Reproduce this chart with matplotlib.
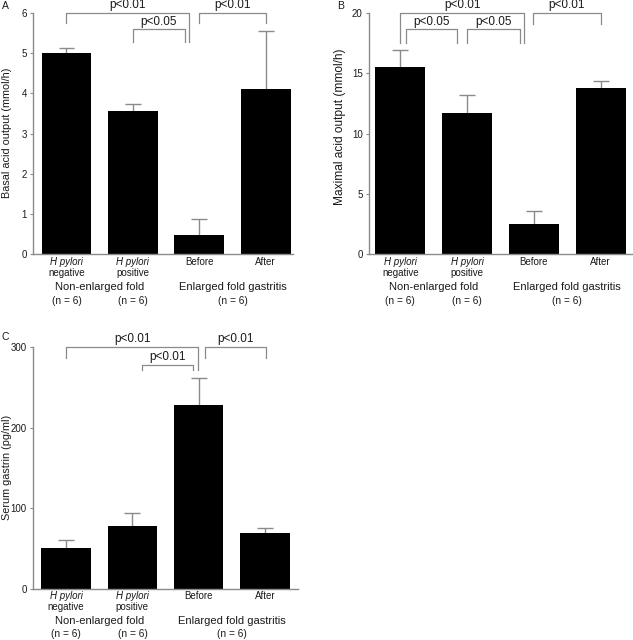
import numpy as np
import matplotlib
matplotlib.use("Agg")
import matplotlib.pyplot as plt

plt.rcParams['font.family'] = ['Liberation Sans', 'DejaVu Sans']

# ---- data ----
groups = ["H pylori\nnegative", "H pylori\npositive", "Before", "After"]
basal_mean = [5.0, 3.55, 0.47, 4.1]
basal_upper = [5.12, 3.73, 0.88, 5.55]
maximal_mean = [15.5, 11.7, 2.5, 13.8]
maximal_upper = [16.9, 13.2, 3.6, 14.35]
gastrin_mean = [51, 78, 228, 69]
gastrin_upper = [61, 94, 262, 76]

# brackets: (x_left, x_right, y_top, y_left_end, y_right_end, label)
brackets_A = [(0.0, 1.84, 6.0, 5.75, 5.27, "p<0.01"),
              (1.0, 1.78, 5.59, 5.27, 5.27, "p<0.05"),
              (1.99, 3.0, 6.0, 5.75, 5.75, "p<0.01")]
brackets_B = [(0.0, 1.85, 20.0, 17.5, 17.5, "p<0.01"),
              (0.08, 0.85, 18.65, 17.5, 17.5, "p<0.05"),
              (1.0, 1.79, 18.65, 17.5, 17.5, "p<0.05"),
              (1.99, 3.0, 20.0, 19.1, 19.1, "p<0.01")]
brackets_C = [(0.0, 1.99, 300, 286, 271, "p<0.01"),
              (1.14, 1.92, 278, 271, 271, "p<0.01"),
              (2.09, 3.01, 300, 286, 286, "p<0.01")]

W, H = 633, 640
fig = plt.figure(figsize=(W / 100, H / 100), dpi=100)
GRAY = "#8a8a8a"
TXT = "#1a1a1a"


def px_axes(l, r, t, b):
    return fig.add_axes([l / W, 1 - b / H, (r - l) / W, (b - t) / H])


def panel(ax, means, uppers, ymax, yticks, ylabel, ylabel_pos, ylabel_size,
          brackets, xlim, letter, letter_pos, offs):
    x = np.arange(len(means))
    ax.bar(x, means, width=0.75, color="black", zorder=2)
    ax.vlines(x, means, uppers, color=GRAY, lw=1.0, zorder=1)
    ax.hlines(uppers, x - 0.12, x + 0.12, color=GRAY, lw=1.0, zorder=1)
    ax.set_xlim(*xlim)
    ax.set_ylim(0, ymax)
    ax.set_yticks(yticks)
    ax.set_yticklabels([str(v) for v in yticks], fontsize=7, color=TXT)
    ax.tick_params(axis='y', length=2.5, width=0.8, color=GRAY, pad=2)
    ax.set_xticks([])
    for s in ['top', 'right']:
        ax.spines[s].set_visible(False)
    for s in ['left', 'bottom']:
        ax.spines[s].set_color(GRAY)
        ax.spines[s].set_linewidth(1.0)
    fig.text(ylabel_pos[0] / W, 1 - ylabel_pos[1] / H, ylabel, rotation=90,
             fontsize=ylabel_size, color=TXT, ha='center', va='center')
    trans = ax.get_xaxis_transform()
    o1, o2, o3, o4 = offs
    # category labels
    for i, g in enumerate(groups):
        if g.startswith("H pylori"):
            ax.annotate("H pylori", (i, 0), xycoords=trans, xytext=(0, -o1),
                        textcoords='offset points', ha='center', va='center',
                        fontsize=7, style='italic', color=TXT, annotation_clip=False)
            ax.annotate(g.split("\n")[1], (i, 0), xycoords=trans, xytext=(0, -o2),
                        textcoords='offset points', ha='center', va='center',
                        fontsize=7, color=TXT, annotation_clip=False)
        else:
            ax.annotate(g, (i, 0), xycoords=trans, xytext=(0, -o1),
                        textcoords='offset points', ha='center', va='center',
                        fontsize=7, color=TXT, annotation_clip=False)
    ax.annotate("Non-enlarged fold", (0.5, 0), xycoords=trans, xytext=(0, -o3),
                textcoords='offset points', ha='center', va='center',
                fontsize=8, color=TXT, annotation_clip=False)
    ax.annotate("Enlarged fold gastritis", (2.5, 0), xycoords=trans, xytext=(0, -o3),
                textcoords='offset points', ha='center', va='center',
                fontsize=8, color=TXT, annotation_clip=False)
    for xn in [0, 1, 2.5]:
        ax.annotate("(n = 6)", (xn, 0), xycoords=trans, xytext=(0, -o4),
                    textcoords='offset points', ha='center', va='center',
                    fontsize=7.3, color=TXT, annotation_clip=False)
    # brackets
    for xl, xr, yt, yle, yre, lab in brackets:
        ax.plot([xl, xl, xr, xr], [yle, yt, yt, yre], color=GRAY, lw=0.9,
                clip_on=False, zorder=3)
        ax.annotate(lab, ((xl + xr) / 2, yt), xytext=(0, 1.2),
                    textcoords='offset points', ha='center', va='bottom',
                    fontsize=8.5, color=TXT, annotation_clip=False)
    fig.text(letter_pos[0] / W, 1 - letter_pos[1] / H, letter, fontsize=7.5,
             color=TXT, ha='left', va='center')


axA = px_axes(33, 293, 13, 254)
panel(axA, basal_mean, basal_upper, 6, [0, 1, 2, 3, 4, 5, 6],
      "Basal acid output (mmol/h)", (7, 133), 7.8, brackets_A, (-0.504, 3.41),
      "A", (2, 6), (5.8, 13.8, 23.4, 34.2))

axB = px_axes(369, 632, 13, 254)
panel(axB, maximal_mean, maximal_upper, 20, [0, 5, 10, 15, 20],
      "Maximal acid output (mmol/h)", (340, 127), 8.6, brackets_B, (-0.47, 3.47),
      "B", (337, 6), (5.8, 13.8, 23.4, 34.2))

axC = px_axes(33, 298, 347, 589)
panel(axC, gastrin_mean, gastrin_upper, 300, [0, 100, 200, 300],
      "Serum gastrin (pg/ml)", (7, 467), 7.8, brackets_C, (-0.5, 3.5),
      "C", (2, 337), (5.3, 12.7, 23.2, 32.6))

fig.savefig("out.png", dpi=100)
